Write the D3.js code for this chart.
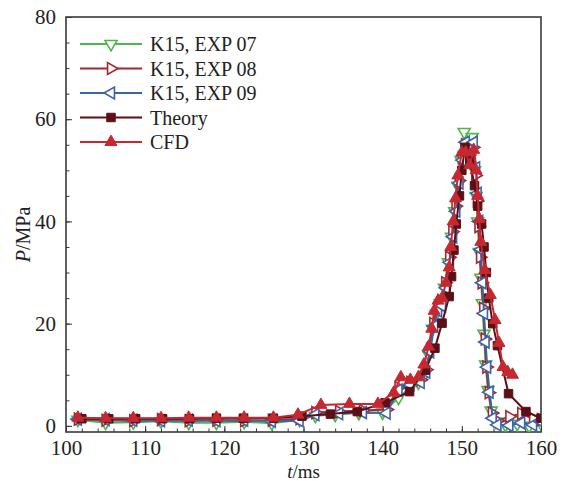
<!DOCTYPE html>
<html>
<head>
<meta charset="utf-8">
<script src="https://cdn.jsdelivr.net/npm/d3@7/dist/d3.min.js"></script>
<style>
  html, body { margin: 0; padding: 0; background: #fff; }
  svg { display: block; }
  text { font-family: "Liberation Serif", "Times New Roman", serif; fill: #222; }
</style>
</head>
<body>
<svg id="chart" width="569" height="481"></svg>
<script>
// Pressure histories, t in ms, P in MPa
const exp07T = [101.5, 105, 108.5, 112, 115.5, 119, 122.5, 126, 129.5, 131.5, 134, 137, 140, 142, 143.5, 144.5, 145.3, 145.8, 146.3, 146.8, 147.3, 147.8, 148.3, 148.7, 149.1, 149.5, 149.9, 150.3, 150.8, 151.3, 151.6, 151.8, 152.0, 152.2, 152.4, 152.6, 152.8, 153.0, 153.3, 153.7, 154.3, 155.5, 157, 158.5, 160];
const exp07P = [1.2, 0.6, 0.7, 0.9, 0.6, 0.6, 0.8, 0.5, 1.2, 2.0, 2.2, 2.5, 2.6, 5.5, 7.5, 8.5, 10.0, 14.0, 19.0, 22.0, 24.0, 27.0, 32.0, 37.0, 42.0, 47.0, 52.0, 57.5, 55.0, 56.5, 50.0, 45.0, 40.0, 34.0, 29.0, 24.0, 18.0, 12.0, 7.0, 3.0, 0.8, 0.2, 0.4, 0.0, 0.5];

const exp08T = [101.5, 105, 108.5, 112, 115.5, 119, 122.5, 126, 129.5, 131.5, 134.5, 137.5, 140.5, 142, 143.5, 144.8, 145.5, 146.0, 146.4, 146.9, 147.4, 147.9, 148.4, 148.8, 149.2, 149.6, 150.0, 150.4, 150.9, 151.4, 151.7, 151.9, 152.1, 152.3, 152.5, 152.7, 152.9, 153.1, 153.4, 153.8, 154.5, 156, 157.5, 159, 160];
const exp08P = [1.3, 1.1, 1.0, 1.2, 1.0, 1.1, 1.0, 1.1, 1.4, 2.6, 2.8, 3.0, 3.2, 7.5, 8.5, 9.0, 11.0, 15.0, 20.0, 23.0, 24.5, 28.0, 33.0, 38.0, 43.0, 48.0, 52.5, 55.0, 53.0, 54.5, 49.0, 44.0, 39.0, 33.0, 28.0, 23.0, 17.0, 11.5, 6.5, 2.5, 1.0, 1.8, 2.4, 1.4, 1.2];

const exp09T = [101.5, 105, 108.5, 112, 115.5, 119, 122.5, 126, 129.5, 131.5, 134.5, 137.5, 140.5, 142, 143.5, 144.8, 145.5, 146.0, 146.5, 147.0, 147.5, 148.0, 148.5, 148.9, 149.3, 149.7, 150.1, 150.5, 151.0, 151.5, 151.8, 152.0, 152.2, 152.4, 152.6, 152.8, 153.0, 153.2, 153.5, 153.9, 154.5, 156, 157.5, 159, 160];
const exp09P = [1.3, 1.2, 1.1, 1.0, 1.1, 1.0, 1.1, 0.9, 1.0, 2.2, 2.4, 2.6, 2.5, 7.0, 8.0, 8.5, 10.5, 14.5, 19.5, 22.5, 23.5, 27.0, 32.0, 37.0, 42.0, 47.5, 52.0, 55.5, 54.0, 55.5, 50.5, 45.5, 40.0, 34.5, 28.0, 22.0, 16.4, 11.5, 6.6, 1.5, 0.2, 0.1, 0.6, 0.2, 0.8];

const theoryT = [102, 105.4, 108.8, 112.2, 115.6, 119, 122.4, 126.2, 129.8, 133.4, 136.8, 140.3, 143.4, 145.4, 146.6, 147.5, 148.4, 148.7, 149.0, 149.3, 149.7, 150.0, 150.4, 151.0, 151.6, 152.0, 152.5, 152.8, 153.1, 153.4, 153.9, 154.5, 155.9, 158.1, 160];
const theoryP = [1.4, 1.4, 1.4, 1.4, 1.4, 1.5, 1.5, 1.5, 1.9, 2.3, 2.8, 4.5, 6.7, 10.9, 15.2, 20.1, 25.3, 29.2, 34.4, 39.5, 45.0, 50.0, 54.5, 52.0, 47.0, 43.0, 39.5, 35.0, 30.0, 25.0, 20.0, 15.7, 6.3, 2.8, 1.5];

const cfdT = [101.5, 105, 108.5, 112, 115.5, 119, 122.5, 126.2, 129.3, 132.2, 135.8, 139.4, 141.4, 142.3, 143.5, 144.5, 145.2, 145.8, 146.2, 146.5, 147.0, 147.5, 148.0, 148.4, 148.6, 148.9, 149.2, 149.5, 150.0, 150.5, 151.0, 151.5, 151.8, 152.0, 152.2, 152.4, 152.9, 153.6, 154.2, 154.7, 155.2, 155.8, 156.4];
const cfdP = [1.6, 1.5, 1.5, 1.5, 1.6, 1.6, 1.6, 1.6, 2.2, 4.1, 4.3, 4.3, 6.5, 9.5, 9.0, 9.5, 12.0, 15.5, 19.0, 22.5, 24.5, 25.0, 28.0, 31.0, 35.0, 40.0, 44.5, 49.0, 53.5, 53.5, 51.0, 54.0, 50.0, 45.0, 40.5, 36.0, 30.5, 25.6, 20.7, 16.2, 11.5, 10.5, 10.0];

const seriesNames = ["K15, EXP 07", "K15, EXP 08", "K15, EXP 09", "Theory", "CFD"];
const seriesColors = ["#4cb848", "#a3272d", "#3c62ad", "#5b0f16", "#c62830"];
const seriesMarkers = ["down", "right", "left", "square", "up"];
const seriesFilled = [false, false, false, true, true];

const xTicks = [100, 110, 120, 130, 140, 150, 160];
const yTicks = [0, 20, 40, 60, 80];

const series = [
  {t: exp07T, p: exp07P}, {t: exp08T, p: exp08P}, {t: exp09T, p: exp09P},
  {t: theoryT, p: theoryP}, {t: cfdT, p: cfdP}
].map((s, i) => ({
  name: seriesNames[i], color: seriesColors[i], marker: seriesMarkers[i], filled: seriesFilled[i],
  values: s.t.map((t, j) => ({t, p: s.p[j]}))
}));

const svg = d3.select("#chart");
const margin = {left: 66, top: 17, right: 28, bottom: 49};
const W = 569, H = 481;
const x = d3.scaleLinear().domain([100, 160]).range([margin.left, W - margin.right]);
const y = d3.scaleLinear().domain([-1.2, 80]).range([H - margin.bottom, margin.top]);

svg.append("defs").append("clipPath").attr("id", "plot-clip")
  .append("rect")
  .attr("x", margin.left).attr("y", margin.top)
  .attr("width", W - margin.left - margin.right)
  .attr("height", H - margin.top - margin.bottom);

// axes with inward ticks: major labelled, minor unlabelled
const xMinor = d3.range(100, 161, 2);
const yMinor = d3.range(0, 81, 5);
const axisColor = "#333";

const bottom = svg.append("g").attr("transform", `translate(0,${H - margin.bottom})`);
bottom.call(d3.axisBottom(x).tickValues(xMinor).tickSize(-3.5).tickFormat(""));
bottom.append("g").call(d3.axisBottom(x).tickValues(xTicks).tickSize(-6).tickPadding(8).tickFormat(d3.format("d")));
bottom.selectAll(".domain").remove();
bottom.selectAll("line").attr("stroke", axisColor).attr("stroke-width", 1);
bottom.selectAll("text").attr("font-size", 21).attr("fill", "#222")
  .attr("font-family", "Liberation Serif, Times New Roman, serif");

const left = svg.append("g").attr("transform", `translate(${margin.left},0)`);
left.call(d3.axisLeft(y).tickValues(yMinor).tickSize(-3.5).tickFormat(""));
left.append("g").call(d3.axisLeft(y).tickValues(yTicks).tickSize(-6).tickPadding(10).tickFormat(d3.format("d")));
left.selectAll(".domain").remove();
left.selectAll("line").attr("stroke", axisColor).attr("stroke-width", 1);
left.selectAll("text").attr("font-size", 21).attr("fill", "#222")
  .attr("font-family", "Liberation Serif, Times New Roman, serif");

// frame
svg.append("rect")
  .attr("x", margin.left).attr("y", margin.top)
  .attr("width", W - margin.left - margin.right)
  .attr("height", H - margin.top - margin.bottom)
  .attr("fill", "none").attr("stroke", "#3a3a3a").attr("stroke-width", 1.6);

function markerPath(kind) {
  if (kind === "square") return d3.symbol(d3.symbolSquare, 72)();
  return d3.symbol(d3.symbolTriangle, 62)();
}
const rotation = {up: 0, down: 180, right: 90, left: -90, square: 0};

function drawMarker(g, kind, color, filled, cx, cy) {
  g.append("path")
    .attr("d", markerPath(kind))
    .attr("transform", `translate(${cx},${cy}) rotate(${rotation[kind]})`)
    .attr("fill", filled ? color : "#fff")
    .attr("stroke", color)
    .attr("stroke-width", filled ? 1 : 1.6);
}

const line = d3.line().x(d => x(d.t)).y(d => y(d.p));
const plot = svg.append("g").attr("clip-path", "url(#plot-clip)");

series.forEach(s => {
  const g = plot.append("g");
  g.append("path").datum(s.values)
    .attr("d", line)
    .attr("fill", "none")
    .attr("stroke", s.color)
    .attr("stroke-width", 2)
    .attr("stroke-linejoin", "round");
  s.values.forEach(d => drawMarker(g, s.marker, s.color, s.filled, x(d.t), y(d.p)));
});

// legend
const legend = svg.append("g");
const legendY0 = 44, legendDy = 24.5;
series.forEach((s, i) => {
  const ly = legendY0 + i * legendDy;
  legend.append("line").attr("x1", 80).attr("x2", 142).attr("y1", ly).attr("y2", ly)
    .attr("stroke", s.color).attr("stroke-width", 2);
  drawMarker(legend, s.marker, s.color, s.filled, 111, ly);
  legend.append("text").attr("x", 150).attr("y", ly).attr("dy", "0.35em")
    .attr("font-size", 20).text(s.name);
});

// axis titles
svg.append("text")
  .attr("x", x(130)).attr("y", 478)
  .attr("text-anchor", "middle").attr("font-size", 19)
  .call(t => {
    t.append("tspan").attr("font-style", "italic").text("t");
    t.append("tspan").text("/ms");
  });

svg.append("text")
  .attr("transform", `translate(30,${(margin.top + H - margin.bottom) / 2 + 10}) rotate(-90)`)
  .attr("text-anchor", "middle").attr("font-size", 20)
  .call(t => {
    t.append("tspan").attr("font-style", "italic").text("P");
    t.append("tspan").text("/MPa");
  });
</script>
</body>
</html>
